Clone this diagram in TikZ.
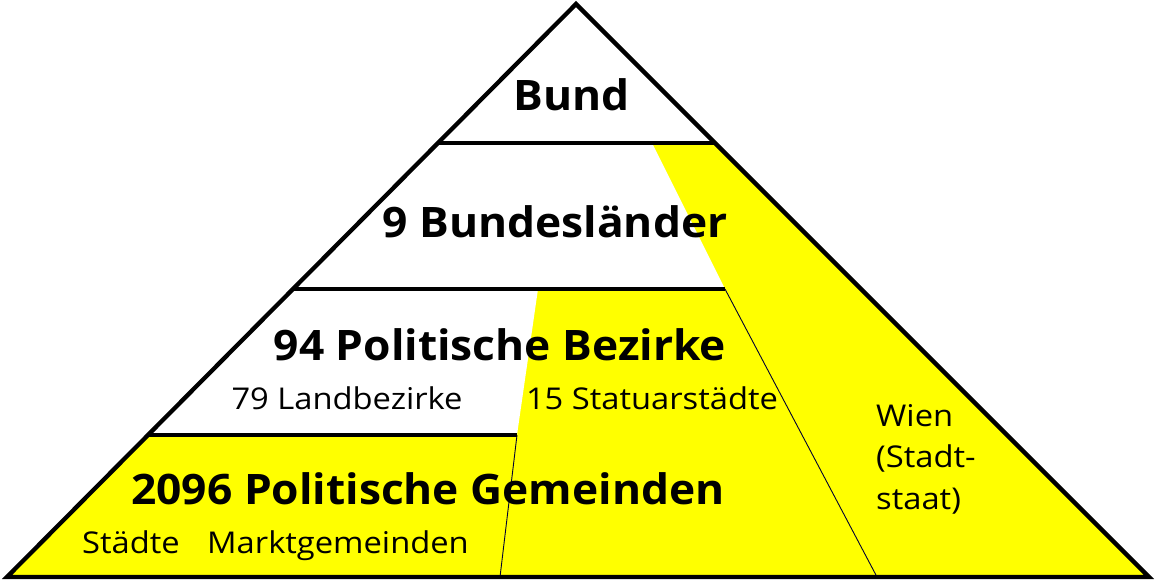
\documentclass[tikz,border=0pt]{standalone}
\usepackage{fontspec}
\setmainfont{Open Sans}
\newfontfamily\bigfont[FakeStretch=1.055]{Open Sans}
\newfontfamily\smallfont[FakeStretch=1.09]{Open Sans}
\usetikzlibrary{calc}
\definecolor{pyel}{RGB}{255,255,0}
\tikzset{
  thickline/.style={line width=4.3pt,line join=miter,line cap=butt},
  thinline/.style={line width=0.9pt,color=black!80!blue},
  bigtext/.style={font=\bigfont\fontsize{42}{48}\selectfont\bfseries,inner sep=0pt,anchor=base},
  smalltext/.style={font=\smallfont\fontsize{30}{41.5}\selectfont,inner sep=0pt,anchor=base},
}
\begin{document}
\begin{tikzpicture}[x=1pt,y=-1pt]
\useasboundingbox (0,0) rectangle (1155,581);
\coordinate (A) at (576,4);
\coordinate (L) at (7,577);
\coordinate (R) at (1149,577);
\coordinate (L1) at (438,143);
\coordinate (R1) at (715,143);
\coordinate (L2) at (293,289);
\coordinate (L3) at (148,435);
\coordinate (S1) at (652,143);
\coordinate (S2) at (725,289);
\coordinate (SB) at (877,577);
\coordinate (M1) at (538,289);
\coordinate (M2) at (517,435);
\coordinate (MB) at (500,577);
% fills
\fill[pyel] (A) -- (L) -- (R) -- cycle;
\fill[white] (A) -- (L1) -- (R1) -- cycle;
\fill[white] (L1) -- (S1) -- (S2) -- (L2) -- cycle;
\fill[white] (L2) -- (M1) -- (M2) -- (L3) -- cycle;
% thin lines
\draw[thinline] (S2) -- (SB);
\draw[thinline] (M2) -- (MB);
% horizontal lines
\draw[thickline] (L1) -- (R1);
\draw[thickline] (L2) -- (S2);
\draw[thickline] (L3) -- (M2);
% outline
\draw[thickline] (A) -- (L) -- (R) -- cycle;
% texts
\node[bigtext] (bund) at (572,110) {Bund};
\node[bigtext] (laender) at (555,237) {9 Bundesländer};
\node[bigtext] (bezirke) at (500,360) {94 Politische Bezirke};
\node[smalltext] (land) at (347,409) {79 Landbezirke};
\node[smalltext] (statuar) at (652,409) {15 Statuarstädte};
\node[bigtext] (gemeinden) at (428,504) {2096 Politische Gemeinden};
\node[smalltext] (staedte) at (131,553) {Städte};
\node[smalltext] (markt) at (338,553) {Marktgemeinden};
\node[smalltext,anchor=north west,align=left] (wien) at (876,404) {Wien\\(Stadt-\\staat)};
\end{tikzpicture}
\end{document}
